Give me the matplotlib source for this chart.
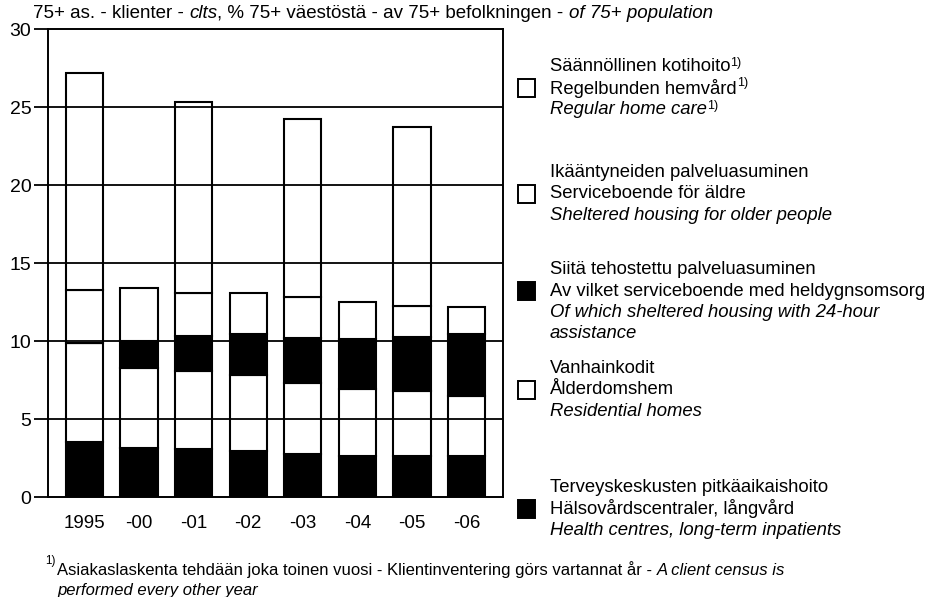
import numpy as np
import matplotlib
matplotlib.use("Agg")
import matplotlib.pyplot as plt
from matplotlib.patches import Rectangle

plt.rcParams['font.family'] = ['Liberation Sans', 'DejaVu Sans']

# data (% of 75+ population)
years = ['1995', '-00', '-01', '-02', '-03', '-04', '-05', '-06']
health_centres = [3.55, 3.15, 3.1, 2.95, 2.75, 2.65, 2.65, 2.6]
residential = [6.35, 5.15, 5.0, 4.85, 4.55, 4.3, 4.15, 3.9]
sheltered = [3.4, 5.1, 5.0, 5.3, 5.55, 5.55, 5.45, 5.65]
sheltered_24h = [0.0, 1.7, 2.2, 2.65, 2.9, 3.2, 3.45, 3.95]
home_care = [13.85, None, 12.2, None, 11.4, None, 11.45, None]
yticks = [0, 5, 10, 15, 20, 25, 30]

W, H = 934, 597
fig = plt.figure(figsize=(W / 100, H / 100), dpi=100)
ax = fig.add_axes([48 / W, 1 - 497 / H, 455 / W, 468 / H])

x = np.arange(len(years))
bw = 0.68
hc = np.array(health_centres)
res = np.array(residential)
sh24 = np.array(sheltered_24h)
sh_other = np.array(sheltered) - sh24
edge = dict(edgecolor='black', linewidth=1.5, zorder=2)

ax.bar(x, hc, bw, color='black', **edge)
ax.bar(x, res, bw, bottom=hc, color='white', **edge)
ax.bar(x, sh24, bw, bottom=hc + res, color='black', **edge)
ax.bar(x, sh_other, bw, bottom=hc + res + sh24, color='white', **edge)
top = hc + res + sh24 + sh_other
idx = [i for i, v in enumerate(home_care) if v is not None]
ax.bar(x[idx], [home_care[i] for i in idx], bw, bottom=top[idx], color='white', **edge)

for yv in yticks[1:-1]:
    ax.axhline(yv, color='black', linewidth=1.3, zorder=3)

ax.set_xlim(-0.668, len(years) - 1 + 0.668)
ax.set_ylim(0, 30)
ax.set_yticks(yticks)
ax.set_xticks(x)
ax.set_xticklabels(years)
ax.tick_params(axis='y', direction='out', length=10, width=1.3, pad=2, labelsize=14)
ax.tick_params(axis='x', length=0, pad=13, labelsize=13.5)
for s in ax.spines.values():
    s.set_linewidth(1.4)


def fx(px):
    return px / W


def fy(py):
    return 1 - py / H


def chain(px, py, parts, size=12, family=None):
    # parts: (text, italic, superscript), drawn one after another on a line
    fam = family if family else plt.rcParams['font.family']
    prev = None
    for s, it, sup in parts:
        style = 'italic' if it else 'normal'
        if prev is None:
            if sup:
                t = fig.text(fx(px), fy(py) + 0.009, s, fontsize=size * 0.7, style=style,
                             va='center', ha='left', family=fam)
            else:
                t = fig.text(fx(px), fy(py), s, fontsize=size, style=style,
                             va='center', ha='left', family=fam)
        elif sup:
            t = ax.annotate(s, xy=(1, 1), xycoords=prev, xytext=(0, 1),
                            textcoords='offset points', fontsize=size * 0.68, style=style,
                            va='top', ha='left', family=fam, annotation_clip=False)
        else:
            t = ax.annotate(s, xy=(1, 0), xycoords=prev, fontsize=size, style=style,
                            va='bottom', ha='left', family=fam, annotation_clip=False)
        prev = t
    return prev


# heading
chain(33, 14, [('75+ as. - klienter - ', False, False), ('clts', True, False),
               (', % 75+ väestöstä - av 75+ befolkningen - ', False, False),
               ('of 75+ population', True, False)], size=13.5)

# legend
legend = [
    ('white', 88, [[('Säännöllinen kotihoito', False, False), ('1)', False, True)],
                   [('Regelbunden hemvård', False, False), ('1)', False, True)],
                   [('Regular home care', True, False), ('1)', False, True)]]),
    ('white', 194, [[('Ikääntyneiden palveluasuminen', False, False)],
                    [('Serviceboende för äldre', False, False)],
                    [('Sheltered housing for older people', True, False)]]),
    ('black', 291, [[('Siitä tehostettu palveluasuminen', False, False)],
                    [('Av vilket serviceboende med heldygnsomsorg', False, False)],
                    [('Of which sheltered housing with 24-hour', True, False)],
                    [('assistance', True, False)]]),
    ('white', 390, [[('Vanhainkodit', False, False)],
                    [('Ålderdomshem', False, False)],
                    [('Residential homes', True, False)]]),
    ('black', 509, [[('Terveyskeskusten pitkäaikaishoito', False, False)],
                    [('Hälsovårdscentraler, långvård', False, False)],
                    [('Health centres, long-term inpatients', True, False)]]),
]
for color, cy, lines in legend:
    fig.patches.append(Rectangle((fx(518), fy(cy + 9)), 17 / W, 18 / H, transform=fig.transFigure,
                                 facecolor=color, edgecolor='black', linewidth=1.4))
    first = cy - 21.5
    for k, parts in enumerate(lines):
        chain(550, first + 21.5 * k, parts, size=13.3)

# footnote
chain(45, 566, [('1)', False, True)], size=12)
chain(57, 570, [('Asiakaslaskenta tehdään joka toinen vuosi - Klientinventering görs vartannat år - ', False, False),
                ('A client census is', True, False)], size=12)
chain(57, 591, [('performed every other year', True, False)], size=12)

fig.savefig('out.png', dpi=100)
